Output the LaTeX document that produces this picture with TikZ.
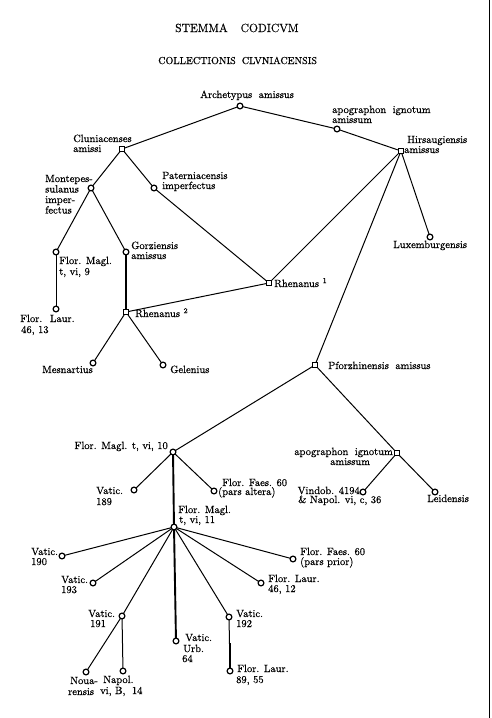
\documentclass[tikz,border=0pt]{standalone}
\usepackage{fontspec}
\setmainfont{Latin Modern Roman}[FakeBold=0.6]
\newcommand\lbl{\fontsize{10.5}{11}\selectfont}
\tikzset{
  ms/.style={circle,draw,fill=white,line width=1.2pt,inner sep=0pt,minimum size=5.8pt},
  mq/.style={rectangle,draw,fill=white,line width=1.2pt,inner sep=0pt,minimum size=5.3pt},
  tw/.style={anchor=base west,inner sep=0pt,font=\lbl},
  te/.style={anchor=base east,inner sep=0pt,font=\lbl},
  ln/.style={line width=1pt},
  lnthick/.style={line width=1.9pt},
}
\begin{document}
\begin{tikzpicture}[x=1pt,y=-1pt]
\useasboundingbox (0,0) rectangle (491,718);
\fill[white] (0,0) rectangle (491,718);
% titles
\node[anchor=base west,inner sep=0pt,font=\fontsize{11.8}{14}\selectfont] (title) at (175,32) {STEMMA\hspace{13pt}CODICVM};
\node[anchor=base west,inner sep=0pt,font=\fontsize{10.1}{12}\selectfont] (subtitle) at (158,64) {COLLECTIONIS\hspace{6pt}CLVNIACENSIS};
% right edge
\coordinate (bt) at (489,0);
\coordinate (bb) at (489,718);
\draw[line width=1pt] (bt) -- (bb);
% positions
\coordinate (arch) at (240,106);
\coordinate (apoA) at (337,129);
\coordinate (hirs) at (401,151);
\coordinate (clun) at (122,149);
\coordinate (mont) at (91,188);
\coordinate (pat) at (154,188);
\coordinate (fmA) at (56,252);
\coordinate (gorz) at (126,252);
\coordinate (flA) at (56,309);
\coordinate (rhB) at (126,312);
\coordinate (rhA) at (269,283);
\coordinate (mesn) at (93,363);
\coordinate (gel) at (163,365);
\coordinate (lux) at (430,237);
\coordinate (pforz) at (315,365);
\coordinate (fmB) at (173,452);
\coordinate (vA) at (134,490);
\coordinate (ffA) at (214,491);
\coordinate (apoB) at (397,453);
\coordinate (vind) at (363,492);
\coordinate (leid) at (435,492);
\coordinate (fmC) at (174,527);
\coordinate (vB) at (62,556);
\coordinate (vC) at (93,583);
\coordinate (vD) at (122,616);
\coordinate (urb) at (176,641);
\coordinate (vE) at (229,617);
\coordinate (flB) at (230,671);
\coordinate (flC) at (261,583);
\coordinate (ffB) at (293,559);
\coordinate (noua) at (86,672);
\coordinate (napol) at (123,671);
\coordinate (thk) at (230,643);

\draw[ln] (arch) -- (apoA) -- (hirs);
\draw[ln] (arch) -- (clun);
\draw[ln] (clun) -- (mont);
\draw[ln] (clun) -- (pat);
\draw[ln] (pat) -- (rhA);
\draw[ln] (mont) -- (fmA);
\draw[ln] (mont) -- (gorz);
\draw[ln] (fmA) -- (flA);
\draw[lnthick] (gorz) -- (rhB);
\draw[ln] (rhA) -- (rhB);
\draw[ln] (rhB) -- (mesn);
\draw[ln] (rhB) -- (gel);
\draw[ln] (hirs) -- (rhA);
\draw[ln] (hirs) -- (pforz);
\draw[ln] (hirs) -- (lux);
\draw[ln] (pforz) -- (fmB);
\draw[ln] (pforz) -- (apoB);
\draw[ln] (apoB) -- (vind);
\draw[ln] (apoB) -- (leid);
\draw[ln] (fmB) -- (vA);
\draw[ln] (fmB) -- (ffA);
\draw[lnthick] (fmB) -- (fmC);
\draw[ln] (fmC) -- (vB);
\draw[ln] (fmC) -- (vC);
\draw[ln] (fmC) -- (vD);
\draw[lnthick] (fmC) -- (urb);
\draw[ln] (fmC) -- (vE);
\draw[ln] (fmC) -- (flC);
\draw[ln] (fmC) -- (ffB);
\draw[ln] (vD) -- (noua);
\draw[ln] (vD) -- (napol);
\draw[ln] (vE) -- (flB);
\draw[lnthick] (thk) -- (flB);

% manuscript marks
\node[ms] (n-arch) at (arch) {};
\node[ms] (n-apoA) at (apoA) {};
\node[mq] (n-hirs) at (hirs) {};
\node[mq] (n-clun) at (clun) {};
\node[ms] (n-mont) at (mont) {};
\node[ms] (n-pat) at (pat) {};
\node[ms] (n-fmA) at (fmA) {};
\node[ms] (n-gorz) at (gorz) {};
\node[ms] (n-flA) at (flA) {};
\node[mq] (n-rhB) at (rhB) {};
\node[mq] (n-rhA) at (rhA) {};
\node[ms] (n-mesn) at (mesn) {};
\node[ms] (n-gel) at (gel) {};
\node[ms] (n-lux) at (lux) {};
\node[mq] (n-pforz) at (pforz) {};
\node[ms] (n-fmB) at (fmB) {};
\node[ms] (n-vA) at (vA) {};
\node[ms] (n-ffA) at (ffA) {};
\node[mq] (n-apoB) at (apoB) {};
\node[ms] (n-vind) at (vind) {};
\node[ms] (n-leid) at (leid) {};
\node[ms] (n-fmC) at (fmC) {};
\node[ms] (n-vB) at (vB) {};
\node[ms] (n-vC) at (vC) {};
\node[ms] (n-vD) at (vD) {};
\node[ms] (n-urb) at (urb) {};
\node[ms] (n-vE) at (vE) {};
\node[ms] (n-flB) at (flB) {};
\node[ms] (n-flC) at (flC) {};
\node[ms] (n-ffB) at (ffB) {};
\node[ms] (n-noua) at (noua) {};
\node[ms] (n-napol) at (napol) {};

% labels
\node[tw] (l1) at (200,98) {Archetypus\hspace{3pt} amissus};
\node[tw] (l2) at (332,113) {apographon\hspace{3pt} ignotum};
\node[tw] (l3) at (332,123) {amissum};
\node[tw] (l4) at (407,143) {Hirsaugiensis};
\node[tw] (l5) at (404,153) {amissus};
\node[tw] (l6) at (73,142) {Cluniacenses};
\node[tw] (l7) at (73,152) {amissi};
\node[tw] (l8) at (45,182) {Montepes-};
\node[tw] (l9) at (45,192.5) {sulanus};
\node[tw] (l10) at (45,203) {imper-};
\node[tw] (l11) at (45,213.5) {fectus};
\node[tw] (l12) at (162,179) {Paterniacensis};
\node[tw] (l13) at (162,189) {imperfectus};
\node[tw] (l14) at (59,264) {Flor. Magl.};
\node[tw] (l15) at (59,275) {t, vi, 9};
\node[tw] (l16) at (131,249) {Gorziensis};
\node[tw] (l17) at (131,259) {amissus};
\node[tw] (l18) at (20,322) {Flor.\hspace{3pt} Laur.};
\node[tw] (l19) at (21,333) {46, 13};
\node[tw] (l20) at (135,317) {Rhenanus \textsuperscript{2}};
\node[tw] (l21) at (274,287) {Rhenanus \textsuperscript{1}};
\node[tw] (l22) at (393,248) {Luxemburgensis};
\node[tw] (l23) at (42,373) {Mesnartius};
\node[tw] (l24) at (170,373) {Gelenius};
\node[tw] (l25) at (328,369) {Pforzhinensis\hspace{3pt} amissus};
\node[te] (l26) at (168,449) {Flor. Magl. t, vi, 10};
\node[tw] (l27) at (96,494) {Vatic.};
\node[tw] (l28) at (96,505) {189};
\node[tw] (l29) at (222,486) {Flor. Faes. 60};
\node[tw] (l30) at (218,495) {(pars altera)};
\node[tw] (l31) at (178,513) {Flor. Magl.};
\node[tw] (l32) at (179,523) {t, vi, 11};
\node[te] (l33) at (393,455) {apographon\hspace{3pt} ignotum};
\node[tw] (l34) at (330,465) {amissum};
\node[te] (l35) at (360,494) {Vindob. 4194};
\node[tw] (l36) at (298,503) {\&\ Napol. vi, c, 36};
\node[tw] (l37) at (427,502) {Leidensis};
\node[tw] (l38) at (31,555) {Vatic.};
\node[tw] (l39) at (31,565) {190};
\node[tw] (l40) at (61,583) {Vatic.};
\node[tw] (l41) at (61,593) {193};
\node[tw] (l42) at (88,617) {Vatic.};
\node[tw] (l43) at (90,627) {191};
\node[tw] (l44) at (185,641) {Vatic.};
\node[tw] (l45) at (183,652) {Urb.};
\node[tw] (l46) at (182,662) {64};
\node[tw] (l47) at (236,617) {Vatic.};
\node[tw] (l48) at (236,627) {192};
\node[tw] (l49) at (237,672) {Flor. Laur.};
\node[tw] (l50) at (236,683) {89, 55};
\node[tw] (l51) at (268,582) {Flor. Laur.};
\node[tw] (l52) at (268,592) {46, 12};
\node[tw] (l53) at (300,555) {Flor. Faes. 60};
\node[tw] (l54) at (300,565) {(pars prior)};
\node[tw] (l55) at (70,684) {Noua-};
\node[tw] (l56) at (68,695) {rensis};
\node[tw] (l57) at (103,683) {Napol.};
\node[tw] (l58) at (100,694) {vi, B,\hspace{3pt} 14};
\end{tikzpicture}
\end{document}
